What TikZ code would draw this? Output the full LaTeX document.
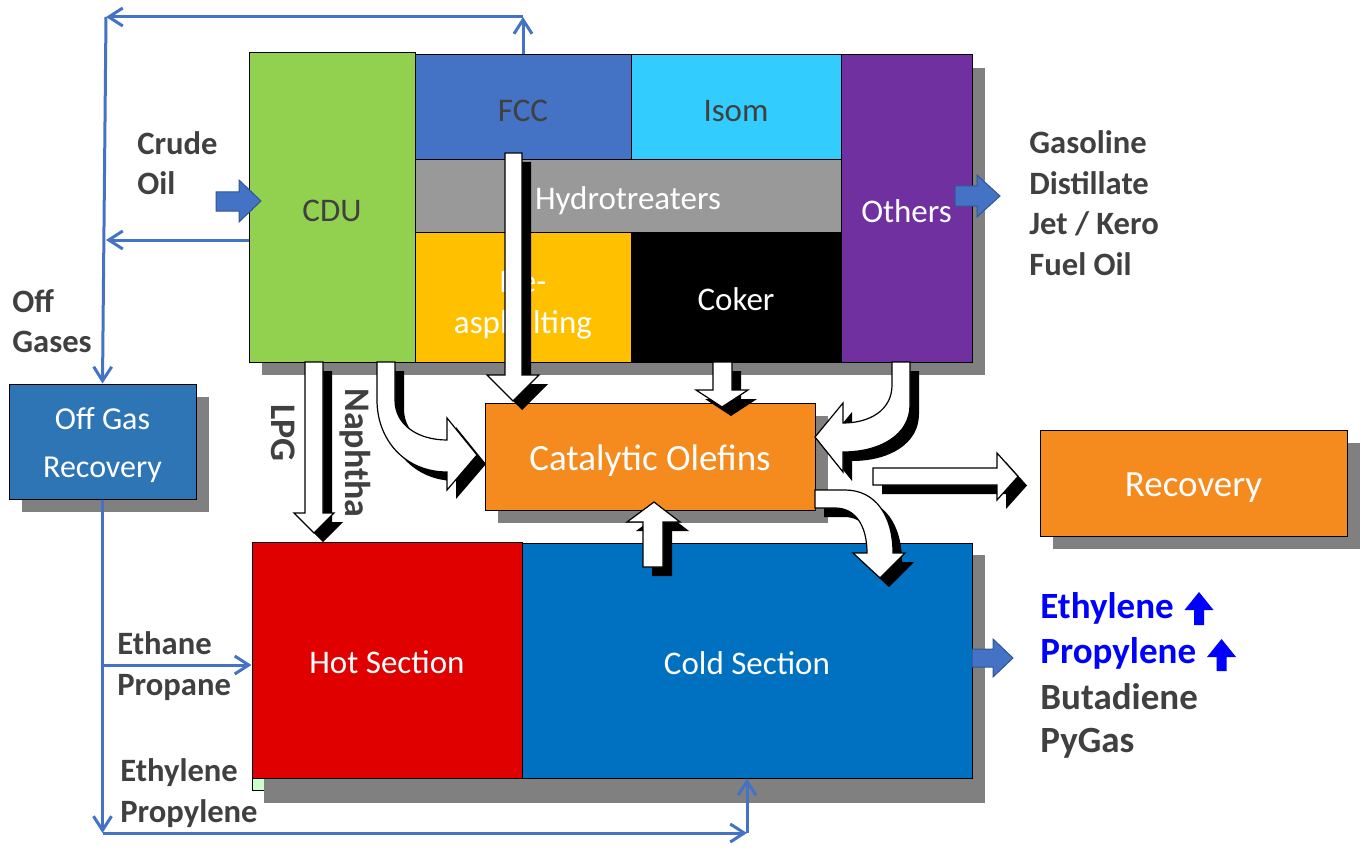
\documentclass[tikz,border=0pt]{standalone}
\usepackage{fontspec}
\setmainfont{Carlito}
\usetikzlibrary{arrows.meta,shadows,calc}
\definecolor{cdugreen}{HTML}{92D050}
\definecolor{fccblue}{HTML}{4472C4}
\definecolor{isomblue}{HTML}{33CCFF}
\definecolor{hydrogray}{HTML}{999999}
\definecolor{deyellow}{HTML}{FFC000}
\definecolor{othpurple}{HTML}{7030A0}
\definecolor{catorange}{HTML}{F58B1F}
\definecolor{ogrblue}{HTML}{2E75B6}
\definecolor{hotred}{HTML}{E00000}
\definecolor{coldblue}{HTML}{0070C0}
\definecolor{lightgreen}{HTML}{CCFFCC}
\definecolor{shadowgray}{HTML}{808080}
\definecolor{txtgray}{HTML}{404040}
\definecolor{connblue}{HTML}{4472C4}
\definecolor{brightblue}{HTML}{0000FF}
\newcommand\sharrow[1]{\fill[black,shift={(9,9)}] #1; \filldraw[wa] #1;}
\begin{document}
\begin{tikzpicture}[x=0.5pt,y=-0.5pt,
  box/.style={draw=black,line width=0.5pt,inner sep=0pt,align=center,font=\fontsize{16.5}{22}\selectfont},
  one/.style={text height=16pt,text depth=2.4pt},
  shad/.style={drop shadow={shadow xshift=6.5pt,shadow yshift=-6.5pt,fill=shadowgray,opacity=1}},
  big/.style={font=\fontsize{18.5}{22}\selectfont},
  conn/.style={draw=connblue,line width=1.5pt,-{Straight Barb[length=7pt,width=9pt]}},
  blockarrow/.style={fill=connblue,draw=connblue!75!black,line width=0.5pt},
  wa/.style={fill=white,draw=black,line width=0.6pt},
  lab/.style={font=\bfseries\fontsize{16.3}{20.3}\selectfont,text=txtgray,align=left,inner sep=0pt},
  lab2/.style={font=\bfseries\fontsize{18.5}{22}\selectfont,inner sep=0pt},
  vlab/.style={font=\bfseries\fontsize{18}{22}\selectfont,text=txtgray,inner sep=0pt,rotate=-90}]
\useasboundingbox (0,0) rectangle (1368,850);

% lower block
\node[box,fill=lightgreen,minimum width=30pt,minimum height=45pt] (base) at (282,745) {};
\fill[shadowgray] (264,555) rectangle (985,803);
\node[box,one,fill=hotred,text=white,minimum width=135pt,minimum height=118pt] (hot) at (387,660) {Hot Section};
\node[box,one,fill=coldblue,text=white,minimum width=225pt,minimum height=117.5pt] (cold) at (747,660.5) {Cold Section};

% refinery block
\node[box,one,shad,fill=cdugreen,text=txtgray,minimum width=83pt,minimum height=154.5pt] (cdu) at (332,207.5) {CDU};
\node[box,one,shad,fill=fccblue,text=txtgray,minimum width=108pt,minimum height=52.5pt] (fcc) at (523,107.5) {FCC};
\node[box,one,shad,fill=isomblue,text=txtgray,minimum width=105pt,minimum height=52.5pt] (isom) at (736,107.5) {Isom};
\node[box,one,shad,fill=hydrogray,text=white,minimum width=213pt,minimum height=36pt] (hydro) at (628,196) {Hydrotreaters};
\node[box,shad,fill=deyellow,minimum width=108pt,minimum height=65pt] (deasph) at (523,297) {};
\node[box,draw=none,text=white,font=\fontsize{16.5}{20.5}\selectfont] (delab) at (523,305) {De-\\asphalting};
\node[box,one,shad,fill=black,text=white,minimum width=105pt,minimum height=65pt] (coker) at (736,297) {Coker};
\node[box,one,shad,fill=othpurple,text=white,minimum width=65.5pt,minimum height=153.5pt] (others) at (906.5,208.5) {Others};

% other boxes
\node[box,one,shad,big,fill=catorange,text=white,minimum width=165pt,minimum height=53.5pt] (cat) at (650,456.5) {Catalytic Olefins};
\node[box,one,shad,big,fill=catorange,text=white,minimum width=153.5pt,minimum height=53pt] (rec) at (1193.5,483) {Recovery};
\node[box,shad,fill=ogrblue,text=white,minimum width=93.5pt,minimum height=57.5pt,font=\fontsize{16}{24}\selectfont] (ogr) at (102.5,441.5) {};
\node[box,draw=none,text=white,font=\fontsize{16}{24}\selectfont] (ogrlab) at (102.5,445) {Off Gas\\Recovery};

% labels
\node[lab,anchor=west] (offg) at (12,321) {Off\\Gases};
\node[lab,anchor=west] (crude) at (137,163) {Crude\\Oil};
\node[lab,anchor=west] (ethpro) at (117,666) {Ethane\\Propane};
\node[lab,anchor=west] (ethprol) at (120,793) {Ethylene\\Propylene};
\node[lab,anchor=west] (fuels) at (1029,203) {Gasoline\\Distillate\\Jet / Kero\\Fuel Oil};
\node[lab2,text=brightblue,anchor=west] (eth) at (1040,608) {Ethylene};
\node[lab2,text=brightblue,anchor=west] (prop) at (1040,653) {Propylene};
\node[lab2,text=txtgray,anchor=west] (buta) at (1040,697) {Butadiene};
\node[lab2,text=txtgray,anchor=west] (pyg) at (1040,743) {PyGas};
\node[vlab] (lpg) at (283,433) {LPG};
\node[vlab] (naph) at (355,453) {Naphtha};

% white shadowed arrows
\sharrow{(305,362) -- (323,362) -- (323,513) -- (334,513) -- (314,533) -- (294,513) -- (305,513) -- cycle}
\sharrow{(377,362) -- (395,362) -- (395,400) .. controls (395,425) and (418,440) .. (447,440) -- (447,418) -- (477,455) -- (447,490) -- (447,472) .. controls (405,472) and (377,440) .. (377,400) -- cycle}
\sharrow{(505,153) -- (522,153) -- (522,375) -- (539,375) -- (513,401) -- (487,375) -- (505,375) -- cycle}
\sharrow{(713,362) -- (732,362) -- (732,390) -- (748,390) -- (722,407) -- (696,390) -- (713,390) -- cycle}
\sharrow{(892,362) -- (910,362) -- (910,405) .. controls (910,435) and (880,452) .. (843,452) -- (843,472) -- (815,437) -- (843,403) -- (843,423) .. controls (870,423) and (892,410) .. (892,385) -- cycle}
\sharrow{(873,468) -- (997,468) -- (997,453) -- (1018,476.5) -- (997,500) -- (997,485) -- (873,485) -- cycle}
\sharrow{(643,567) -- (663,567) -- (663,522) -- (680,522) -- (654,502) -- (627,522) -- (643,522) -- cycle}
\sharrow{(815,490) -- (845,490) .. controls (875,490) and (893,515) .. (893,553) -- (905,553) -- (880,578) -- (853,553) -- (867,553) .. controls (867,525) and (855,508) .. (835,508) -- (815,508) -- cycle}

% blue block arrows
\filldraw[blockarrow] (216,192) -- (239,192) -- (239,180) -- (261,201) -- (239,222) -- (239,211) -- (216,211) -- cycle;
\filldraw[blockarrow] (955,186) -- (977,186) -- (977,175) -- (1000,196) -- (977,217) -- (977,206) -- (955,206) -- cycle;
\filldraw[blockarrow] (972,649) -- (993,649) -- (993,639) -- (1013,658) -- (993,677) -- (993,667) -- (972,667) -- cycle;

% up arrows beside products
\fill[brightblue,shift={(1199,608)}] (-14.5,2) -- (0,-16) -- (14.5,2) -- (5,2) -- (5,17) -- (-5,17) -- (-5,2) -- cycle;
\fill[brightblue,shift={(1221.5,655)}] (-14.5,2) -- (0,-16) -- (14.5,2) -- (5,2) -- (5,16) -- (-5,16) -- (-5,2) -- cycle;

% thin blue connectors
\coordinate (topR) at (fcc.north |- 0,17);
\coordinate (topL) at (106,17);
\draw[conn] (fcc.north) -- (topR);
\draw[conn] (topR) -- (topL);
\draw[conn] (topL) -- (ogr.north);
\coordinate (cduOut) at (cdu.west |- 0,240);
\coordinate (midL) at (topL |- cduOut);
\draw[conn] (cduOut) -- (midL);
\coordinate (botL) at (ogr.south |- 0,833);
\draw[conn] (ogr.south) -- (botL);
\coordinate (ethIn) at (ogr.south |- 0,665);
\coordinate (hotIn) at (hot.west |- 0,665);
\draw[conn] (ethIn) -- (hotIn);
\coordinate (botR) at (747,833);
\draw[conn] (botL) -- (botR);
\draw[conn] (botR) -- (cold.south -| botR);
\end{tikzpicture}
\end{document}
